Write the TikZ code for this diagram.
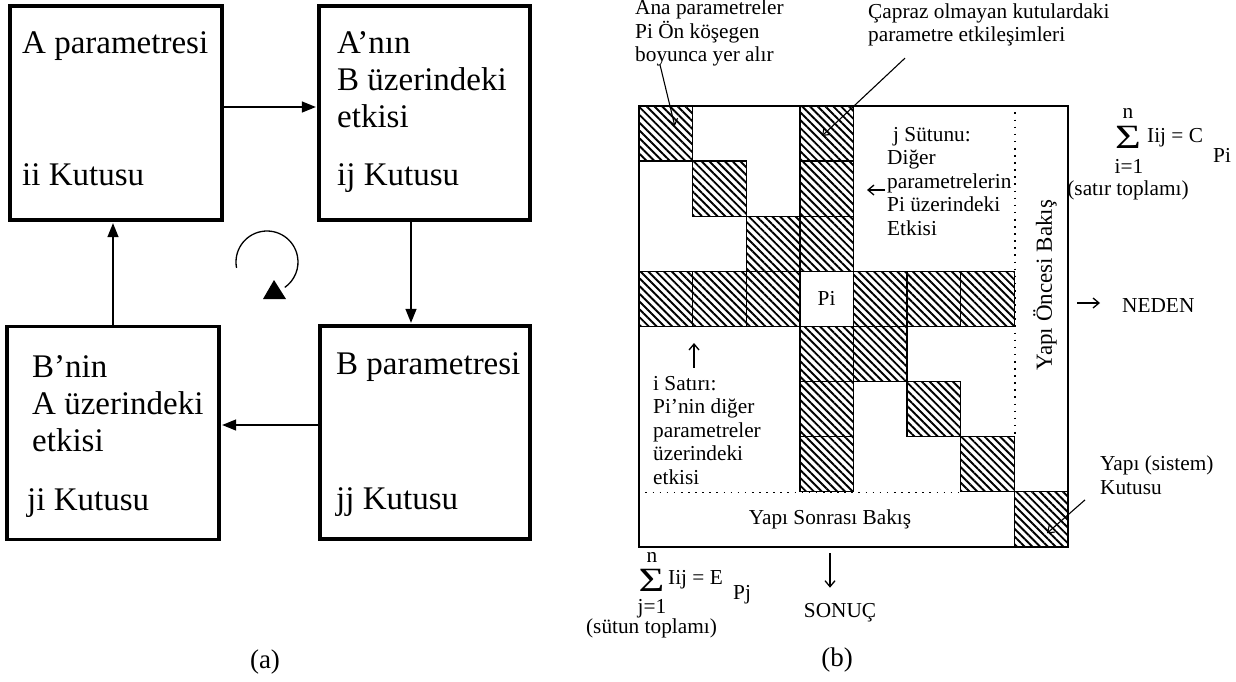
\documentclass[tikz,border=0pt]{standalone}
\usepackage{fontspec}
\setmainfont{Liberation Serif}
\usetikzlibrary{arrows.meta,positioning,patterns.meta}

\begin{document}
\begin{tikzpicture}[
    x=1pt, y=-1pt,
    box/.style={rectangle, draw, line width=3.3pt, minimum width=#1, minimum height=213pt, inner sep=0pt},
    big/.style={font=\fontsize{33}{37}\selectfont, inner sep=0pt, align=left},
    small/.style={font=\fontsize{21.3}{23.5}\selectfont, inner sep=0pt, align=left},
    arrow/.style={-{Triangle[length=14pt,width=11pt]}, line width=1.3pt, shorten >=1.5pt},
    pointer/.style={-{Straight Barb[length=6pt,width=9pt]}, line width=1.1pt},
    glyph/.style={-{Straight Barb[length=6pt,width=10pt]}, line width=1.3pt},
    cell/.style={rectangle, draw, line width=1.4pt, minimum width=53.6pt, minimum height=55.1pt, inner sep=0pt},
    hatch/.style={cell, pattern={Lines[angle=-45,distance=5.5pt,line width=1.9pt]}},
    gap/.style={line width=1.6pt, dash pattern=on 1.6pt off 5.5pt},
    sigma/.style={font=\fontsize{34}{34}\selectfont, inner sep=0pt}
]
\fill[white] (0,0) rectangle (1236,681);
\useasboundingbox (0,0) rectangle (1236,681);

% (a) the four boxes
\node[box=212pt, minimum height=214pt] (iiBox) at (116,113) {};
\node[box=211pt, minimum height=214pt] (ijBox) at (424.5,113) {};
\node[box=212pt] (jiBox) at (113,433) {};
\node[box=210pt] (jjBox) at (425,432.5) {};

\node[big, anchor=base west] (aPar) at (22,53) {A parametresi};
\node[big, anchor=base west] (iiLbl) at (22,185) {ii Kutusu};
\node[big, anchor=north west] (abTxt) at (337,31) {A’nın\\B üzerindeki\\etkisi};
\node[big, anchor=base west] (ijLbl) at (337,185) {ij Kutusu};
\node[big, anchor=north west] (baTxt) at (32,355) {B’nin\\A üzerindeki\\etkisi};
\node[big, anchor=base west] (jiLbl) at (27,510) {ji Kutusu};
\node[big, anchor=base west] (bPar) at (336,374) {B parametresi};
\node[big, anchor=base west] (jjLbl) at (336,509) {jj Kutusu};

% cycle arrows
\draw[arrow] ([yshift=6pt]iiBox.east) -- ([yshift=6pt]iiBox.east -| ijBox.west);
\draw[arrow] ([xshift=-13.5pt]ijBox.south) -- ([xshift=-13.5pt]ijBox.south |- jjBox.north);
\draw[arrow] ([yshift=7.5pt]jjBox.west) -- ([yshift=7.5pt]jjBox.west -| jiBox.east);
\draw[arrow] (jiBox.north) -- (jiBox.north |- iiBox.south);

% turning sign
\coordinate (loopC) at (267,262);
\draw[line width=1.3pt] ([shift={(191:31pt)}]loopC) arc[start angle=191, end angle=-55, radius=31pt];
\fill (274,280) -- (263,299) -- (286,299) -- cycle;

\node[font=\fontsize{27}{30}\selectfont] (capA) at (265,662) {(a)};

% (b) matrix
\node[cell, minimum width=429pt, minimum height=441pt, fill=white] (frame) at (853.5,326.5) {};
\foreach \c/\r in {0/0,1/1,2/2,4/4,5/5,6/6,0/3,1/3,2/3,4/3,5/3,6/3,3/0,3/1,3/2,3/4,3/5,3/6,7/7}
    \node[hatch] (c-\c-\r) at ({639+53.6*(\c+0.5)},{106+55.1*(\r+0.5)}) {};
\node[cell, fill=white, font=\fontsize{21.3}{23.5}\selectfont] (pi) at ({639+53.6*3.5},{106+55.1*3.5}) {Pi};

\draw[gap] (frame.north -| c-6-6.east) -- (c-6-6.north east);
\draw[gap] (frame.west |- c-6-6.south) -- (c-6-6.south west);

% notes
\node[small, anchor=north west] (anaTxt) at (635,0) {Ana parametreler\\Pi Ön köşegen\\boyunca yer alır};
\node[small, anchor=north west] (caprazTxt) at (868,3.5) {Çapraz olmayan kutulardaki\\parametre etkileşimleri};
\node[small, anchor=north west] (jTxt) at (887,127) {\hspace*{6pt}j Sütunu:\\Diğer\\parametrelerin\\Pi üzerindeki\\Etkisi};
\node[small, anchor=north west] (iTxt) at (653,375.7) {i Satırı:\\Pi’nin diğer\\parametreler\\üzerindeki\\etkisi};
\node[small, anchor=north west] (yapiTxt) at (1100,456) {Yapı (sistem)\\Kutusu};
\node[small, rotate=90, font=\fontsize{23}{26}\selectfont] (oncesi) at (1045,285) {Yapı Öncesi Bakış};
\node[small] (sonrasi) at (830,519) {Yapı Sonrası Bakış};
\node[small, anchor=base west] (neden) at (1122,312) {NEDEN};
\node[small, anchor=base] (sonuc) at (840,617) {SONUÇ};

\draw[pointer] ([shift={(25pt,2pt)}]anaTxt.south west) -- ([shift={(9pt,7.6pt)}]c-0-0.center);
\draw[pointer] ([shift={(37pt,-11.4pt)}]caprazTxt.south west) -- ([shift={(-4.6pt,-2.4pt)}]c-3-0.center);
\draw[pointer] ([shift={(-15pt,-5pt)}]yapiTxt.south west) -- ([shift={(6pt,-14pt)}]c-7-7.center);

\coordinate (jHead) at (867,190);
\draw[glyph, shorten <=2pt] (jTxt.west |- jHead) -- (jHead);
\coordinate (iHead) at (694,343);
\draw[glyph, shorten <=8pt] (iHead |- iTxt.north) -- (iHead);
\coordinate (nedenTail) at (1077,303);
\draw[glyph, shorten >=22pt] (nedenTail) -- (nedenTail -| neden.west);
\coordinate (sonucTail) at (830,553);
\draw[glyph, shorten >=15pt] (sonucTail) -- (sonucTail |- sonuc.north);

% sums
\node[sigma] (sumR) at (1128,137) {\scalebox{1.3}[1]{Σ}};
\node[small] (sumRn) at (1128,113) {n};
\node[small] (sumRi) at (1129,166) {i=1};
\node[small, anchor=west] (sumRtxt) at (1147,138) {Iij = C};
\node[small, anchor=west] (sumRsub) at (1213,155) {Pi};
\node[small] (satir) at (1128,190) {(satır toplamı)};

\node[sigma] (sumC) at (651.5,580) {\scalebox{1.3}[1]{Σ}};
\node[small] (sumCn) at (652,557) {n};
\node[small] (sumCj) at (652,609) {j=1};
\node[small, anchor=west] (sumCtxt) at (668,580) {Iij = E};
\node[small, anchor=west] (sumCsub) at (733,595) {Pj};
\node[small] (sutun) at (651.5,628) {(sütun toplamı)};

\node[font=\fontsize{27}{30}\selectfont] (capB) at (837,660) {(b)};
\end{tikzpicture}
\end{document}
